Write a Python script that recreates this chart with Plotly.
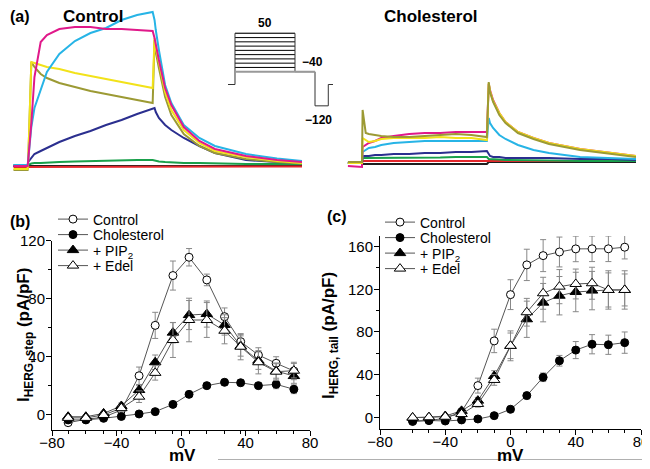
import plotly.graph_objects as go

# ---- panel (b): step current vs voltage ----
mv_step = [-70, -59, -48, -37, -26, -16, -5, 5, 16, 27, 37, 48, 59, 70]
step_control = [-5.3, -3, -1.5, 3.4, 27, 61.7, 96, 108.6, 93, 67.7, 50.5, 41.3, 35.6, 30.3]
step_control_err = [1, 1, 1, 2, 6, 9, 10, 6, 4, 6, 5, 5, 4.5, 6]
step_chol = [-3.4, -3.4, -2.3, -1, 0.7, 2.3, 7.3, 14.2, 20.2, 22.5, 22.2, 20.2, 21.1, 17.7]
step_chol_err = [1, 1, 1, 1, 1, 1, 1.5, 2, 2, 2, 2, 2, 3, 3]
step_pip2 = [-1.2, -1.2, 1.1, 6.2, 17.2, 36.3, 56.7, 68.8, 69.5, 62, 47.5, 37.4, 30.3, 26.8]
step_pip2_err = [1, 1, 1, 2, 3, 5, 7, 10, 9, 7, 7, 6, 5, 5]
step_edel = [-2, -2, 0, 4.7, 12.6, 29, 51.6, 65.4, 65.4, 58, 47, 36.3, 29.8, 30.5]
step_edel_err = [1, 1, 1, 2, 4, 5, 12, 15, 12, 9, 9, 8, 6, 5]

# ---- panel (c): tail current vs voltage ----
mv_tail = [-60, -50, -40, -30, -20, -10, 0, 10, 20, 30, 40, 50, 60, 70]
tail_control = [-4, -3, -1, 5.3, 29.7, 71.6, 115, 142.9, 151.6, 155, 157.9, 158, 158, 159.5]
tail_control_err = [1, 1, 1, 2, 7, 11, 14, 14.7, 15, 14, 12, 12, 12, 11]
tail_chol = [-3.5, -3, -3.5, -2.5, -1.6, 1.5, 7.5, 20.3, 37.5, 53, 63, 68.5, 68, 70]
tail_chol_err = [1, 1, 1, 1, 1, 1, 2, 3, 4, 5, 8, 9, 9, 10]
tail_pip2 = [-0.3, 0, 1.2, 6, 15.6, 38.7, 67, 91.9, 107.5, 114, 117.5, 118.8, 119.4, 119.4]
tail_pip2_err = [1, 1, 1, 2, 3, 5, 14, 17, 18, 18, 18.5, 18, 18, 18]
tail_edel = [-0.3, 0, 0.5, 3, 12.5, 35, 67, 98.5, 116.3, 122.5, 125, 125.7, 119.4, 119.4]
tail_edel_err = [1, 1, 1, 2, 3, 5, 12, 13, 15, 16, 14, 15, 16, 15]

# ---- panel (a): current traces (time in ms, current in nA) ----
t_ms = [-240, -10, 0, 50, 100, 200, 300, 500, 750, 1000, 1250, 1500, 1750, 2000,
        2030, 2050, 2100, 2200, 2300, 2500, 2750, 3000, 3500, 4000, 4400]

ctl_black = [0.0, 0.0, 0.0, 0.0, 0.0, 0.005, 0.005, 0.005, 0.0, 0.005, 0.005, 0.005, 0.005, 0.005,
             0.0, 0.0, 0.0, 0.0, 0.0, 0.0, 0.0, 0.0, 0.0, 0.0, 0.0]
ctl_red = [-0.01, -0.01, -0.01, -0.01, -0.01, -0.01, -0.01, -0.01, -0.01, -0.01, -0.01, -0.01, -0.01, -0.01,
           -0.01, -0.01, -0.01, -0.01, -0.01, -0.01, -0.01, -0.005, -0.005, -0.005, -0.005]
ctl_green = [0.01, 0.01, 0.01, 0.025, 0.03, 0.03, 0.035, 0.04, 0.045, 0.05, 0.05, 0.055, 0.06, 0.06,
             0.055, 0.05, 0.045, 0.04, 0.035, 0.03, 0.03, 0.025, 0.02, 0.02, 0.02]
ctl_navy = [0.0, 0.0, 0.04, 0.08, 0.12, 0.15, 0.18, 0.24, 0.30, 0.35, 0.41, 0.46, 0.52, 0.58,
            0.58, 0.54, 0.48, 0.41, 0.36, 0.28, 0.20, 0.13, 0.06, 0.04, 0.03]
ctl_olive = [-0.04, -0.04, 0.06, 1.04, 0.99, 0.92, 0.88, 0.83, 0.79, 0.75, 0.72, 0.69, 0.66, 0.63,
             1.26, 1.14, 0.98, 0.69, 0.51, 0.32, 0.20, 0.13, 0.07, 0.04, 0.025]
ctl_yellow = [-0.03, -0.03, 0.06, 1.04, 1.03, 1.01, 0.99, 0.97, 0.93, 0.90, 0.87, 0.84, 0.81, 0.78,
              1.28, 1.18, 1.04, 0.74, 0.56, 0.36, 0.23, 0.15, 0.09, 0.05, 0.03]
ctl_cyan = [0.01, 0.01, 0.06, 0.39, 0.58, 0.77, 0.94, 1.12, 1.25, 1.33, 1.38, 1.46, 1.51, 1.54,
            1.46, 1.36, 1.16, 0.81, 0.63, 0.41, 0.28, 0.20, 0.12, 0.075, 0.05]
ctl_magenta = [0.0, 0.0, 0.06, 0.43, 0.89, 1.24, 1.31, 1.37, 1.39, 1.39, 1.37, 1.37, 1.36, 1.35,
               1.28, 1.21, 1.06, 0.78, 0.61, 0.39, 0.25, 0.17, 0.10, 0.06, 0.04]

chol_black = [0.03, 0.03, 0.02, 0.02, 0.025, 0.02, 0.025, 0.02, 0.025, 0.02, 0.025, 0.02, 0.025, 0.02,
              0.04, 0.04, 0.04, 0.04, 0.04, 0.04, 0.04, 0.04, 0.04, 0.04, 0.04]
chol_red = [0.03, 0.03, 0.05, 0.05, 0.05, 0.05, 0.05, 0.05, 0.05, 0.05, 0.05, 0.05, 0.05, 0.05,
            0.05, 0.05, 0.05, 0.05, 0.05, 0.05, 0.05, 0.05, 0.05, 0.05, 0.05]
chol_green = [0.03, 0.03, 0.08, 0.08, 0.08, 0.08, 0.08, 0.08, 0.08, 0.085, 0.085, 0.09, 0.09, 0.09,
              0.07, 0.07, 0.065, 0.065, 0.06, 0.06, 0.055, 0.055, 0.05, 0.05, 0.05]
chol_navy = [0.03, 0.03, 0.10, 0.10, 0.10, 0.11, 0.11, 0.12, 0.12, 0.13, 0.13, 0.14, 0.14, 0.15,
             0.11, 0.10, 0.09, 0.09, 0.08, 0.08, 0.08, 0.08, 0.07, 0.07, 0.06]
chol_cyan = [0.03, 0.03, 0.14, 0.16, 0.18, 0.19, 0.21, 0.23, 0.24, 0.25, 0.25, 0.25, 0.25, 0.25,
             0.48, 0.43, 0.38, 0.31, 0.27, 0.21, 0.16, 0.13, 0.09, 0.08, 0.07]
chol_magenta = [0.0, -0.01, 0.19, 0.21, 0.23, 0.25, 0.28, 0.30, 0.32, 0.33, 0.33, 0.34, 0.34, 0.34,
                0.82, 0.76, 0.66, 0.53, 0.44, 0.34, 0.28, 0.23, 0.17, 0.13, 0.10]
chol_yellow = [0.03, 0.03, 0.28, 0.26, 0.24, 0.25, 0.27, 0.28, 0.28, 0.28, 0.29, 0.28, 0.28, 0.26,
               0.83, 0.75, 0.65, 0.53, 0.44, 0.34, 0.28, 0.23, 0.17, 0.13, 0.10]
chol_olive = [0.04, 0.04, 0.56, 0.33, 0.32, 0.31, 0.30, 0.29, 0.29, 0.30, 0.31, 0.32, 0.31, 0.29,
              0.84, 0.74, 0.64, 0.51, 0.43, 0.33, 0.27, 0.22, 0.16, 0.12, 0.09]

# ---- voltage protocol inset ----
step_levels = [50, 40, 30, 20, 10, 0, -10, -20, -30]
protocol_t = [-233, 0, 0, 2000, 2000, 2667, 2667, 3110, 3110, 3267]
protocol_v = [-70, -70, 50, 50, -40, -40, -120, -120, -70, -70]

# the page body has an 8px margin, so the figure is 8px smaller and positions are shifted
OFF = 8
W, H = 650 - OFF, 469 - OFF


def px(x):
    return (x - OFF) / W


def py(y):
    return 1 - (y - OFF) / H


colors = dict(black='#1e1e1e', red='#e3262b', green='#19a04b', navy='#2b2f8f',
              olive='#9c9a34', yellow='#f2e21a', cyan='#27b4e6', magenta='#e0198a')

fig = go.Figure()

ctl = [('black', ctl_black), ('red', ctl_red), ('green', ctl_green), ('navy', ctl_navy),
       ('olive', ctl_olive), ('yellow', ctl_yellow), ('cyan', ctl_cyan), ('magenta', ctl_magenta)]
chol = [('black', chol_black), ('red', chol_red), ('green', chol_green), ('navy', chol_navy),
        ('cyan', chol_cyan), ('magenta', chol_magenta), ('yellow', chol_yellow), ('olive', chol_olive)]
for c, ys in ctl:
    fig.add_trace(go.Scatter(x=t_ms, y=ys, mode='lines', line=dict(color=colors[c], width=2),
                             xaxis='x3', yaxis='y3', showlegend=False, hoverinfo='skip'))
for c, ys in chol:
    fig.add_trace(go.Scatter(x=t_ms, y=ys, mode='lines', line=dict(color=colors[c], width=2),
                             xaxis='x4', yaxis='y4', showlegend=False, hoverinfo='skip'))

# protocol: step lines, -40 line (grey), outline
sx, sy = [], []
for v in step_levels:
    sx += [0, 2000, None]
    sy += [v, v, None]
fig.add_trace(go.Scatter(x=sx, y=sy, mode='lines', line=dict(color='black', width=1),
                         xaxis='x5', yaxis='y5', showlegend=False, hoverinfo='skip'))
fig.add_trace(go.Scatter(x=protocol_t, y=protocol_v, mode='lines', line=dict(color='#333', width=1),
                         xaxis='x5', yaxis='y5', showlegend=False, hoverinfo='skip'))
fig.add_trace(go.Scatter(x=[0, 2667], y=[-40, -40], mode='lines', line=dict(color='#999', width=2),
                         xaxis='x5', yaxis='y5', showlegend=False, hoverinfo='skip'))

marker_open_c = dict(symbol='circle', size=8, color='white', line=dict(color='black', width=1))
marker_fill_c = dict(symbol='circle', size=8, color='black', line=dict(color='black', width=1))
marker_fill_t = dict(symbol='triangle-up', size=10, color='black', line=dict(color='black', width=1))
marker_open_t = dict(symbol='triangle-up', size=10, color='white', line=dict(color='black', width=1))

series_b = [('Control', step_control, step_control_err, marker_open_c),
            ('Cholesterol', step_chol, step_chol_err, marker_fill_c),
            ('+ PIP<sub>2</sub>', step_pip2, step_pip2_err, marker_fill_t),
            ('+ Edel', step_edel, step_edel_err, marker_open_t)]
series_c = [('Control', tail_control, tail_control_err, marker_open_c),
            ('Cholesterol', tail_chol, tail_chol_err, marker_fill_c),
            ('+ PIP<sub>2</sub>', tail_pip2, tail_pip2_err, marker_fill_t),
            ('+ Edel', tail_edel, tail_edel_err, marker_open_t)]

legends = {}
rows_b = [219.5, 235, 250.5, 266]
rows_c = [222.5, 238, 253.5, 269]
k = 1
for (name, ys, err, mk), row in zip(series_b, rows_b):
    lg = 'legend' if k == 1 else 'legend%d' % k
    fig.add_trace(go.Scatter(x=mv_step, y=ys, name=name, mode='lines+markers', marker=mk,
                             line=dict(color='#555', width=1),
                             error_y=dict(type='data', array=err, color='#888', thickness=1, width=3),
                             xaxis='x', yaxis='y', legend=lg, cliponaxis=False))
    legends[lg] = dict(x=px(53), y=py(row), xanchor='left', yanchor='middle')
    k += 1
for (name, ys, err, mk), row in zip(series_c, rows_c):
    lg = 'legend%d' % k
    fig.add_trace(go.Scatter(x=mv_tail, y=ys, name=name, mode='lines+markers', marker=mk,
                             line=dict(color='#555', width=1),
                             error_y=dict(type='data', array=err, color='#888', thickness=1, width=3),
                             xaxis='x2', yaxis='y2', legend=lg, cliponaxis=False))
    legends[lg] = dict(x=px(380), y=py(row), xanchor='left', yanchor='middle')
    k += 1

for lg in legends:
    legends[lg].update(bgcolor='rgba(0,0,0,0)', borderwidth=0, itemwidth=30,
                       font=dict(size=14, color='black'))

tickfont = dict(size=15, color='black')
axis_common = dict(showline=True, linecolor='black', linewidth=1, ticks='outside', ticklen=5,
                   tickwidth=1, tickcolor='black', showgrid=False, zeroline=False, tickfont=tickfont,
                   automargin=False)
hidden = dict(visible=False, showgrid=False, zeroline=False)

fig.update_layout(
    width=W, height=H, margin=dict(l=0, r=0, t=0, b=0, autoexpand=False),
    paper_bgcolor='white', plot_bgcolor='rgba(0,0,0,0)',
    font=dict(family='Arial, Liberation Sans, Helvetica, sans-serif', color='black'),
    xaxis=dict(domain=[px(52), px(310)], range=[-80, 80], tickvals=[-80, -40, 0, 40, 80], anchor='y',
               ticklabelstandoff=-6,
               minor=dict(tickvals=mv_step, ticks='outside', ticklen=3, tickcolor='black'), **axis_common),
    yaxis=dict(domain=[py(429.5), py(240.7)], range=[-10, 120], tickvals=[0, 40, 80, 120], anchor='x',
               ticklabelstandoff=-2,
               minor=dict(dtick=20, ticks='outside', ticklen=3, tickcolor='black'), **axis_common),
    xaxis2=dict(domain=[px(380), px(641)], range=[-80, 80], tickvals=[-80, -40, 0, 40, 80], anchor='y2',
                ticklabelstandoff=-6,
                minor=dict(tickvals=mv_tail, ticks='outside', ticklen=3, tickcolor='black'), **axis_common),
    yaxis2=dict(domain=[py(429), py(236)], range=[-11, 170], tickvals=[0, 40, 80, 120, 160], anchor='x2',
                ticklabelstandoff=-2,
                minor=dict(dtick=20, ticks='outside', ticklen=3, tickcolor='black'), **axis_common),
    xaxis3=dict(domain=[px(13.3), px(302)], range=[-240, 4400], anchor='y3', **hidden),
    yaxis3=dict(domain=[py(190), py(8)], range=[-0.24, 1.58], anchor='x3', **hidden),
    xaxis4=dict(domain=[px(347.7), px(636)], range=[-240, 4400], anchor='y4', **hidden),
    yaxis4=dict(domain=[py(190), py(8)], range=[-0.24, 1.58], anchor='x4', **hidden),
    xaxis5=dict(domain=[px(228), px(333)], range=[-233, 3267], anchor='y5', **hidden),
    yaxis5=dict(domain=[py(115), py(20)], range=[-141.5, 81.2], anchor='x5', **hidden),
    **legends,
)

ann = []


def label(text, x, y, size, xanchor='center', angle=0, bold=True):
    ann.append(dict(text='<b>%s</b>' % text if bold else text, x=px(x), y=py(y), xref='paper', yref='paper',
                    xanchor=xanchor, yanchor='middle', showarrow=False, textangle=angle,
                    font=dict(size=size, color='black')))


label('(a)', 8, 17, 16, xanchor='left')
label('Control', 93, 17, 17)
label('Cholesterol', 431, 17, 17)
label('(b)', 8, 221, 16, xanchor='left')
label('(c)', 325, 216, 16, xanchor='left')
label('I<sub>HERG, step</sub> (pA/pF)', 25, 335, 17, angle=-90)
label('I<sub>HERG, tail</sub> (pA/pF)', 330, 335, 17, angle=-90)
label('mV', 183, 455, 17)
label('mV', 510, 455, 17)

for text, t, v, ys in [('50', 1000, 50, 10), ('\u221240', 2600, -40, 10),
                       ('\u221270', -733, -70, -1), ('\u2212120', 2767, -120, -14)]:
    ann.append(dict(text='<b>%s</b>' % text, x=t, y=v, xref='x5', yref='y5', yshift=ys,
                    showarrow=False, font=dict(size=12, color='black')))

fig.update_layout(annotations=ann)
fig.add_shape(type='line', xref='paper', yref='paper', x0=px(218), x1=1, y0=py(459.5), y1=py(459.5),
              line=dict(color='#b0b0b0', width=1))

fig.write_html("out.html")
